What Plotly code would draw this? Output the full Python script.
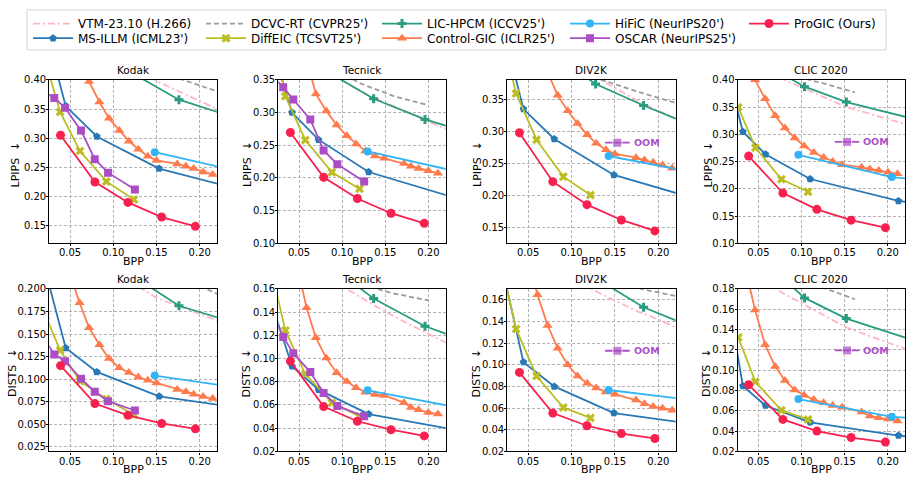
import plotly.graph_objects as go

W, H = 912, 487
FONT = "DejaVu Sans"

DATASETS = ["Kodak", "Tecnick", "DIV2K", "CLIC 2020"]
METRICS = ["LPIPS", "DISTS"]

# ---------------- axes ----------------
X_RANGE = [0.026, 0.22]
X_TICKS = [0.05, 0.10, 0.15, 0.20]

Y_RANGE_LPIPS = {"Kodak": [0.12, 0.40], "Tecnick": [0.10, 0.35], "DIV2K": [0.125, 0.38], "CLIC 2020": [0.10, 0.40]}
Y_TICKS_LPIPS = {
    "Kodak": [0.15, 0.20, 0.25, 0.30, 0.35, 0.40],
    "Tecnick": [0.10, 0.15, 0.20, 0.25, 0.30, 0.35],
    "DIV2K": [0.15, 0.20, 0.25, 0.30, 0.35],
    "CLIC 2020": [0.10, 0.15, 0.20, 0.25, 0.30, 0.35, 0.40],
}
Y_RANGE_DISTS = {"Kodak": [0.02, 0.20], "Tecnick": [0.02, 0.16], "DIV2K": [0.02, 0.17], "CLIC 2020": [0.02, 0.18]}
Y_TICKS_DISTS = {
    "Kodak": [0.025, 0.050, 0.075, 0.100, 0.125, 0.150, 0.175, 0.200],
    "Tecnick": [0.02, 0.04, 0.06, 0.08, 0.10, 0.12, 0.14, 0.16],
    "DIV2K": [0.02, 0.04, 0.06, 0.08, 0.10, 0.12, 0.14, 0.16],
    "CLIC 2020": [0.02, 0.04, 0.06, 0.08, 0.10, 0.12, 0.14, 0.16, 0.18],
}
Y_TICK_FMT_DISTS = {"Kodak": "{:.3f}", "Tecnick": "{:.2f}", "DIV2K": "{:.2f}", "CLIC 2020": "{:.2f}"}

# ---------------- data ----------------
VTM_BPP = {"Kodak": [0.10, 0.15, 0.22, 0.30],
           "Tecnick": [0.08, 0.105, 0.13, 0.15, 0.18, 0.22, 0.30],
           "DIV2K": [0.10, 0.1226, 0.14, 0.1766, 0.19, 0.22, 0.30],
           "CLIC 2020": [0.06, 0.0703, 0.08, 0.152, 0.22, 0.30]}
VTM_LPIPS = {"Kodak": [0.45, 0.398, 0.35, 0.32],
             "Tecnick": [0.37, 0.345, 0.327, 0.315, 0.298, 0.275, 0.245],
             "DIV2K": [0.42, 0.395, 0.375, 0.347, 0.338, 0.32, 0.285],
             "CLIC 2020": [0.42, 0.41, 0.40, 0.35, 0.319, 0.29]}
VTM_DISTS = {"Kodak": [0.22, 0.19, 0.165, 0.15],
             "Tecnick": [0.175, 0.16, 0.149, 0.1404, 0.1286, 0.1138, 0.095],
             "DIV2K": [0.185, 0.17, 0.163, 0.149, 0.145, 0.1346, 0.115],
             "CLIC 2020": [0.187, 0.18, 0.175, 0.142, 0.121, 0.105]}

DCVC_BPP = {"Kodak": [0.15, 0.22, 0.30],
            "Tecnick": [0.08, 0.12, 0.146, 0.16, 0.20],
            "DIV2K": [0.10, 0.134, 0.18, 0.22, 0.30],
            "CLIC 2020": [0.08, 0.109, 0.1287, 0.1618]}
DCVC_LPIPS = {"Kodak": [0.415, 0.3805, 0.35],
              "Tecnick": [0.375, 0.345, 0.332, 0.325, 0.311],
              "DIV2K": [0.40, 0.38, 0.36, 0.3438, 0.32],
              "CLIC 2020": [0.42, 0.40, 0.392, 0.377]}
DCVC_DISTS = {"Kodak": [0.225, 0.1946, 0.17],
              "Tecnick": [0.19, 0.167, 0.1586, 0.156, 0.150],
              "DIV2K": [0.21, 0.19, 0.17, 0.163, 0.15],
              "CLIC 2020": [0.195, 0.186, 0.18, 0.1698]}

HPCM_BPP = {"Kodak": [0.12, 0.176, 0.26],
            "Tecnick": [0.09, 0.1365, 0.196, 0.30],
            "DIV2K": [0.09, 0.1277, 0.183, 0.30],
            "CLIC 2020": [0.07, 0.1035, 0.152, 0.30]}
HPCM_LPIPS = {"Kodak": [0.413, 0.366, 0.326],
              "Tecnick": [0.357, 0.321, 0.2895, 0.248],
              "DIV2K": [0.41, 0.3734, 0.34, 0.275],
              "CLIC 2020": [0.4175, 0.3874, 0.3593, 0.3005]}
HPCM_DISTS = {"Kodak": [0.216, 0.1813, 0.1567],
              "Tecnick": [0.178, 0.1516, 0.1278, 0.1004],
              "DIV2K": [0.205, 0.18, 0.153, 0.115],
              "CLIC 2020": [0.197, 0.1711, 0.1507, 0.1104]}

HIFIC_BPP = {"Kodak": [0.148, 0.30], "Tecnick": [0.1295, 0.30],
             "DIV2K": [0.1427, 0.30], "CLIC 2020": [0.0964, 0.2047, 0.30]}
HIFIC_LPIPS = {"Kodak": [0.276, 0.225], "Tecnick": [0.2405, 0.19],
               "DIV2K": [0.2612, 0.22], "CLIC 2020": [0.2623, 0.2216, 0.2066]}
HIFIC_DISTS = {"Kodak": [0.104, 0.083], "Tecnick": [0.0726, 0.0485],
               "DIV2K": [0.0767, 0.0614], "CLIC 2020": [0.0716, 0.0541, 0.049]}

MSILLM_BPP = {"Kodak": [0.024, 0.045, 0.081, 0.153, 0.26],
              "Tecnick": [0.022, 0.0419, 0.0726, 0.1307, 0.26],
              "DIV2K": [0.022, 0.0446, 0.0801, 0.1488, 0.26],
              "CLIC 2020": [0.015, 0.032, 0.0582, 0.11, 0.2124, 0.30]}
MSILLM_LPIPS = {"Kodak": [0.473, 0.355, 0.303, 0.248, 0.207],
                "Tecnick": [0.386, 0.30, 0.2585, 0.209, 0.158],
                "DIV2K": [0.456, 0.3344, 0.2877, 0.2316, 0.188],
                "CLIC 2020": [0.41, 0.3048, 0.2635, 0.218, 0.1778, 0.16]}
MSILLM_DISTS = {"Kodak": [0.211, 0.1346, 0.108, 0.081, 0.0663],
                "Tecnick": [0.139, 0.0934, 0.0732, 0.0522, 0.0347],
                "DIV2K": [0.183, 0.1024, 0.080, 0.0554, 0.0432],
                "CLIC 2020": [0.170, 0.0844, 0.0652, 0.0487, 0.0356, 0.028]}

DIFFEIC_BPP = {"Kodak": [0.022, 0.0385, 0.0615, 0.092, 0.1238],
               "Tecnick": [0.022, 0.0342, 0.0573, 0.0882, 0.1201],
               "DIV2K": [0.022, 0.0361, 0.0597, 0.0905, 0.1218],
               "CLIC 2020": [0.0266, 0.0465, 0.0767, 0.1075]}
DIFFEIC_LPIPS = {"Kodak": [0.43, 0.345, 0.278, 0.226, 0.195],
                 "Tecnick": [0.415, 0.325, 0.258, 0.2085, 0.1835],
                 "DIV2K": [0.438, 0.3588, 0.2866, 0.229, 0.2004],
                 "CLIC 2020": [0.3497, 0.2754, 0.2174, 0.1946]}
DIFFEIC_DISTS = {"Kodak": [0.17, 0.132, 0.098, 0.078, 0.0606],
                 "Tecnick": [0.163, 0.1242, 0.0866, 0.062, 0.0502],
                 "DIV2K": [0.182, 0.133, 0.0896, 0.0605, 0.0509],
                 "CLIC 2020": [0.1322, 0.0885, 0.0605, 0.0515]}

CGIC_BPP = {"Kodak": [0.050, 0.061, 0.072, 0.084, 0.095, 0.107, 0.118, 0.129, 0.140, 0.150, 0.174, 0.184, 0.193, 0.204, 0.215],
            "Tecnick": [0.047, 0.0587, 0.0695, 0.0816, 0.0936, 0.1054, 0.1162, 0.127, 0.138, 0.1488, 0.1716, 0.1797, 0.1886, 0.1998, 0.211],
            "DIV2K": [0.049, 0.0608, 0.0724, 0.084, 0.0956, 0.1068, 0.118, 0.1284, 0.1396, 0.150, 0.1743, 0.184, 0.194, 0.2048, 0.216],
            "CLIC 2020": [0.035, 0.0461, 0.0578, 0.0695, 0.0808, 0.0921, 0.103, 0.1143, 0.1256, 0.1361, 0.147, 0.1696, 0.1793, 0.1895, 0.2004, 0.2113]}
CGIC_LPIPS = {"Kodak": [0.50, 0.44, 0.397, 0.362, 0.334, 0.313, 0.295, 0.281, 0.269, 0.262, 0.256, 0.252, 0.248, 0.242, 0.238],
              "Tecnick": [0.44, 0.38, 0.3285, 0.3025, 0.281, 0.2645, 0.252, 0.241, 0.2335, 0.230, 0.222, 0.218, 0.2145, 0.211, 0.207],
              "DIV2K": [0.50, 0.44, 0.392, 0.356, 0.3318, 0.312, 0.2944, 0.281, 0.271, 0.2643, 0.2586, 0.255, 0.2513, 0.2472, 0.242],
              "CLIC 2020": [0.45, 0.40, 0.3653, 0.334, 0.3114, 0.2934, 0.2784, 0.2665, 0.2575, 0.2503, 0.2443, 0.2395, 0.2365, 0.2335, 0.2305, 0.2275]}
CGIC_DISTS = {"Kodak": [0.216, 0.1846, 0.1569, 0.1382, 0.1228, 0.1127, 0.1073, 0.1023, 0.0987, 0.0958, 0.0886, 0.0861, 0.0833, 0.0807, 0.0786],
              "Tecnick": [0.183, 0.1438, 0.118, 0.1004, 0.0878, 0.0802, 0.0749, 0.071, 0.069, 0.0682, 0.062, 0.0578, 0.0558, 0.0536, 0.0522],
              "DIV2K": [0.199, 0.1645, 0.1363, 0.1153, 0.100, 0.0896, 0.083, 0.0785, 0.0749, 0.0728, 0.0674, 0.0641, 0.0614, 0.0599, 0.0581],
              "CLIC 2020": [0.20, 0.1593, 0.1249, 0.1035, 0.0898, 0.0805, 0.0754, 0.071, 0.0678, 0.0652, 0.0636, 0.0589, 0.055, 0.0531, 0.0519, 0.0499]}

OSCAR_BPP = {"Kodak": [0.02, 0.0318, 0.0442, 0.0627, 0.0786, 0.094, 0.125],
             "Tecnick": [0.02, 0.0317, 0.0434, 0.0631, 0.0785, 0.0944, 0.1255]}
OSCAR_LPIPS = {"Kodak": [0.38, 0.369, 0.352, 0.313, 0.264, 0.241, 0.212],
               "Tecnick": [0.355, 0.3385, 0.32, 0.2895, 0.242, 0.221, 0.1945]}
OSCAR_DISTS = {"Kodak": [0.145, 0.1274, 0.1199, 0.1005, 0.0861, 0.0757, 0.0653],
               "Tecnick": [0.137, 0.1186, 0.1046, 0.0883, 0.0704, 0.0592, 0.0502]}

# OSCAR out-of-memory marker (DIV2K, CLIC 2020)
OOM_BPP = [0.1386, 0.1528, 0.167]
OOM_LPIPS = {"DIV2K": 0.282, "CLIC 2020": 0.2862}
OOM_DISTS = {"DIV2K": 0.1129, "CLIC 2020": 0.1194}

PROGIC_BPP = {"Kodak": [0.039, 0.0788, 0.117, 0.156, 0.195],
              "Tecnick": [0.040, 0.0786, 0.1176, 0.1566, 0.1952],
              "DIV2K": [0.040, 0.0784, 0.1178, 0.1574, 0.196],
              "CLIC 2020": [0.0387, 0.0784, 0.1178, 0.1575, 0.1973]}
PROGIC_LPIPS = {"Kodak": [0.305, 0.225, 0.190, 0.165, 0.149],
                "Tecnick": [0.2695, 0.201, 0.1685, 0.146, 0.1305],
                "DIV2K": [0.2975, 0.2212, 0.1853, 0.1614, 0.1443],
                "CLIC 2020": [0.260, 0.1922, 0.1623, 0.1425, 0.1287]}
PROGIC_DISTS = {"Kodak": [0.115, 0.073, 0.060, 0.051, 0.045],
                "Tecnick": [0.0978, 0.0586, 0.046, 0.0387, 0.0334],
                "DIV2K": [0.0929, 0.0554, 0.0437, 0.0365, 0.032],
                "CLIC 2020": [0.0856, 0.0515, 0.040, 0.0337, 0.0292]}

OSCAR_COLOR = "#ab4ec6"

# draw order (matplotlib plotting order) with style
METHODS = [
    dict(name="VTM-23.10 (H.266)", bpp=VTM_BPP, LPIPS=VTM_LPIPS, DISTS=VTM_DISTS,
         color="#ffb6c1", dash="7px,3px,2px,3px", symbol=None, size=0, leg=(34, 18)),
    dict(name="MS-ILLM (ICML23')", bpp=MSILLM_BPP, LPIPS=MSILLM_LPIPS, DISTS=MSILLM_DISTS,
         color="#2878b5", dash="solid", symbol="pentagon", size=8, leg=(34, 33)),
    dict(name="DCVC-RT (CVPR25')", bpp=DCVC_BPP, LPIPS=DCVC_LPIPS, DISTS=DCVC_DISTS,
         color="#9c9c9c", dash="5px,3px", symbol=None, size=0, leg=(207, 18)),
    dict(name="DiffEIC (TCSVT25')", bpp=DIFFEIC_BPP, LPIPS=DIFFEIC_LPIPS, DISTS=DIFFEIC_DISTS,
         color="#bcbd22", dash="solid", symbol="x", size=8, leg=(207, 33)),
    dict(name="LIC-HPCM (ICCV25')", bpp=HPCM_BPP, LPIPS=HPCM_LPIPS, DISTS=HPCM_DISTS,
         color="#2a9d80", dash="solid", symbol="cross", size=7.5, leg=(383, 18)),
    dict(name="Control-GIC (ICLR25')", bpp=CGIC_BPP, LPIPS=CGIC_LPIPS, DISTS=CGIC_DISTS,
         color="#ff7b4d", dash="solid", symbol="triangle-up", size=9, leg=(383, 33)),
    dict(name="HiFiC (NeurIPS20')", bpp=HIFIC_BPP, LPIPS=HIFIC_LPIPS, DISTS=HIFIC_DISTS,
         color="#33b5f5", dash="solid", symbol="circle", size=8, leg=(571, 18)),
    dict(name="OSCAR (NeurIPS25')", bpp=OSCAR_BPP, LPIPS=OSCAR_LPIPS, DISTS=OSCAR_DISTS,
         color=OSCAR_COLOR, dash="solid", symbol="square", size=8, leg=(571, 33)),
    dict(name="ProGIC (Ours)", bpp=PROGIC_BPP, LPIPS=PROGIC_LPIPS, DISTS=PROGIC_DISTS,
         color="#f8204f", dash="solid", symbol="circle", size=9, leg=(750, 18)),
]

# ---------------- layout geometry (px) ----------------
COL_X = [(49.3, 217.0), (278.3, 445.7), (507.3, 675.7), (737.7, 905.0)]
ROW_Y = [(75.7, 243.3), (290.0, 456.7)]
YTITLE_X = [[15, 247.5, 477.5, 708], [12, 246.5, 476.5, 706]]

AXIS_STYLE = dict(showline=True, linecolor="black", linewidth=1.3, mirror=True,
                  ticks="outside", ticklen=2, tickwidth=1, tickcolor="black",
                  ticklabelstandoff=-2,
                  showgrid=True, gridcolor="#b3b3b3", gridwidth=0.8, griddash="3px,2px",
                  zeroline=False, tickfont=dict(size=10, family=FONT, color="black"),
                  fixedrange=True)

fig = go.Figure()
layout = dict(width=W, height=H, margin=dict(l=0, r=0, t=0, b=0),
              paper_bgcolor="white", plot_bgcolor="white",
              font=dict(family=FONT, size=10, color="black"),
              showlegend=True, hovermode=False)
annotations = []


def axname(n):
    return "" if n == 1 else str(n)


for r, metric in enumerate(METRICS):
    for c, ds in enumerate(DATASETS):
        n = r * 4 + c + 1
        s = axname(n)
        x0, x1 = COL_X[c]
        y0, y1 = ROW_Y[r]
        if metric == "LPIPS":
            yr, yt, fmt = Y_RANGE_LPIPS[ds], Y_TICKS_LPIPS[ds], "{:.2f}"
        else:
            yr, yt, fmt = Y_RANGE_DISTS[ds], Y_TICKS_DISTS[ds], Y_TICK_FMT_DISTS[ds]
        layout["xaxis" + s] = dict(domain=[x0 / W, x1 / W], anchor="y" + s, range=X_RANGE,
                                   tickvals=X_TICKS, ticktext=[f"{v:.2f}" for v in X_TICKS],
                                   **AXIS_STYLE)
        layout["yaxis" + s] = dict(domain=[1 - y1 / H, 1 - y0 / H], anchor="x" + s, range=yr,
                                   tickvals=yt, ticktext=[fmt.format(v) for v in yt],
                                   **AXIS_STYLE)
        # subplot title
        annotations.append(dict(text=ds, xref="paper", yref="paper",
                                x=(x0 + x1) / 2 / W, y=1 - (y0 - 10) / H,
                                xanchor="center", yanchor="middle", showarrow=False,
                                font=dict(size=10.5, family=FONT, color="black")))
        # x title
        annotations.append(dict(text="BPP", xref="paper", yref="paper",
                                x=(x0 + x1) / 2 / W, y=1 - (y1 + 19) / H,
                                xanchor="center", yanchor="middle", showarrow=False,
                                font=dict(size=11, family=FONT, color="black")))
        # y title
        annotations.append(dict(text=metric + "\u00a0 \u2193", xref="paper", yref="paper",
                                x=YTITLE_X[r][c] / W, y=1 - ((y0 + y1) / 2 + 3) / H,
                                xanchor="center", yanchor="middle", showarrow=False,
                                textangle=-90,
                                font=dict(size=11, family=FONT, color="black")))

        # traces
        for mi, m in enumerate(METHODS):
            if ds not in m["bpp"]:
                continue
            first = (r == 0 and c == 0)
            legend_id = "legend" if mi == 0 else f"legend{mi + 1}"
            mode = "lines" if m["symbol"] is None else "lines+markers"
            tr = dict(x=m["bpp"][ds], y=m[metric][ds], mode=mode, name=m["name"],
                      xaxis="x" + s, yaxis="y" + s, legendgroup=m["name"],
                      showlegend=bool(first), legend=legend_id,
                      line=dict(color=m["color"], width=1.8, dash=m["dash"]))
            if m["symbol"] is not None:
                tr["marker"] = dict(symbol=m["symbol"], size=m["size"], color=m["color"],
                                    line=dict(width=0))
            fig.add_trace(go.Scatter(**tr))

        # OOM marker
        if ds in OOM_LPIPS:
            oy = OOM_LPIPS[ds] if metric == "LPIPS" else OOM_DISTS[ds]
            fig.add_trace(go.Scatter(x=OOM_BPP, y=[oy] * len(OOM_BPP), mode="lines+markers",
                                     xaxis="x" + s, yaxis="y" + s, showlegend=False,
                                     line=dict(color=OSCAR_COLOR, width=1.8),
                                     marker=dict(symbol="square", size=[0, 9, 0], color=OSCAR_COLOR)))
            annotations.append(dict(text="<b>OOM</b>", xref="x" + s, yref="y" + s,
                                    x=OOM_BPP[-1], y=oy, xanchor="left", yanchor="middle",
                                    xshift=2, showarrow=False,
                                    font=dict(size=9.5, family=FONT, color=OSCAR_COLOR)))

# legends: one per entry, placed to mimic the 5-column matplotlib legend
LEG_OFFSET = 6
for mi, m in enumerate(METHODS):
    key = "legend" if mi == 0 else f"legend{mi + 1}"
    lx, ly = m["leg"]
    layout[key] = dict(x=(lx - LEG_OFFSET) / W, y=1 - ly / H, xanchor="left", yanchor="middle",
                       bgcolor="rgba(0,0,0,0)", borderwidth=0, itemwidth=40,
                       font=dict(size=12, family=FONT, color="black"),
                       itemclick=False, itemdoubleclick=False)

layout["shapes"] = [dict(type="rect", xref="paper", yref="paper", layer="below",
                         x0=27 / W, x1=886 / W, y0=1 - 45 / H, y1=1 - 4 / H,
                         line=dict(color="#d5d5d5", width=1), fillcolor="white")]
layout["annotations"] = annotations
fig.update_layout(**layout)
fig.write_html("out.html")
